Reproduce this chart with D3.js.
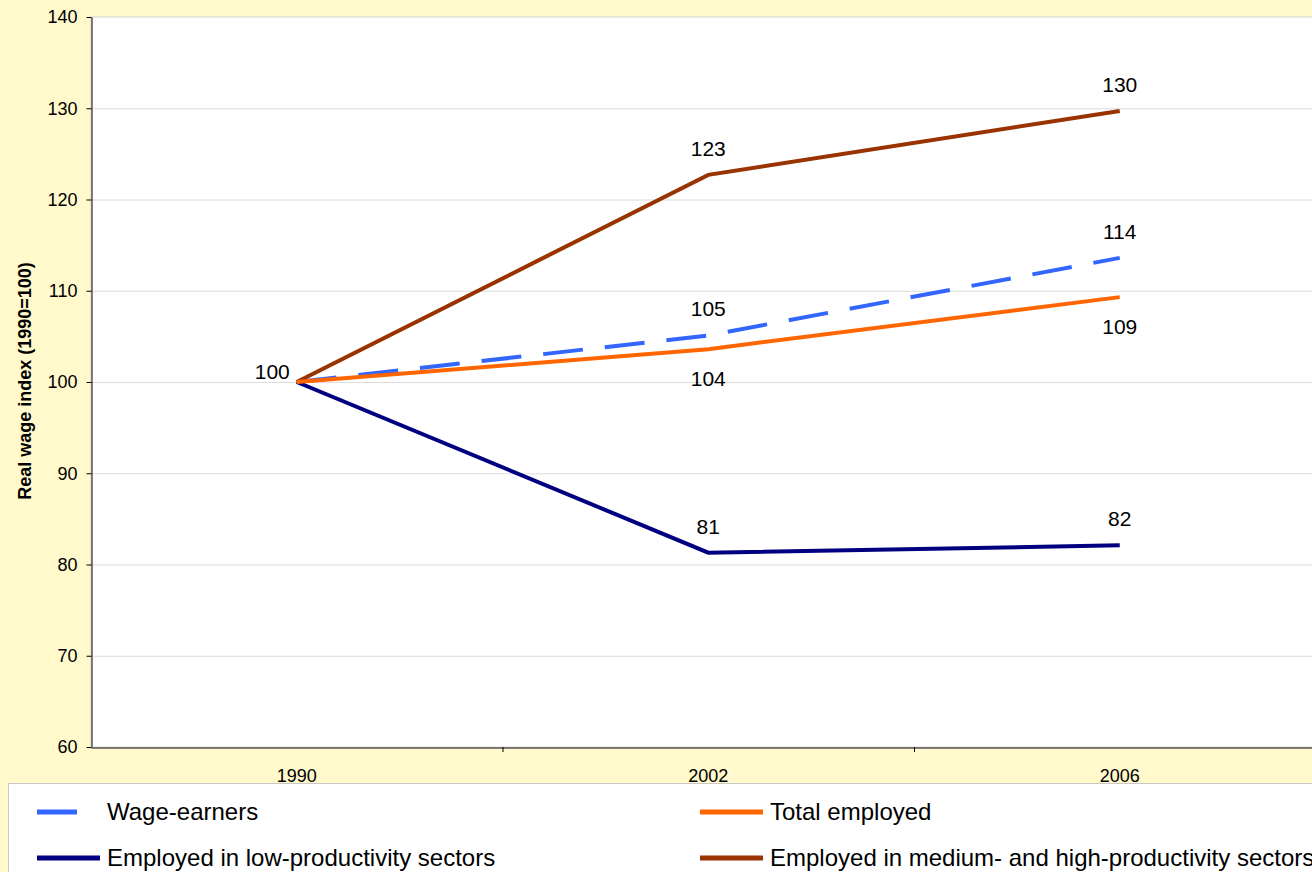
<!DOCTYPE html>
<html>
<head>
<meta charset="utf-8">
<script src="https://cdn.jsdelivr.net/npm/d3@7"></script>
<style>
  body { margin: 0; background: #fff9cc; }
  text { font-family: "Liberation Sans", Arial, sans-serif; }
</style>
</head>
<body>
<div id="chart"></div>
<script>
const years = ["1990", "2002", "2006"];
const yTicks = [60, 70, 80, 90, 100, 110, 120, 130, 140];

const wageEarners = [100, 105.1, 113.6];
const totalEmployed = [100, 103.6, 109.3];
const lowProductivity = [100, 81.3, 82.1];
const mediumHighProductivity = [100, 122.7, 129.7];

const wageLabels = ["", "105", "114"];
const totalLabels = ["", "104", "109"];
const lowLabels = ["100", "81", "82"];
const mediumLabels = ["", "123", "130"];

const width = 1312;
const height = 872;
const plot = { left: 91, top: 17, right: 1312, bottom: 747 };

const svg = d3
  .select("#chart")
  .append("svg")
  .attr("width", width)
  .attr("height", height);

svg.append("rect").attr("width", width).attr("height", height).attr("fill", "#fff9cc");

// plot area
svg
  .append("rect")
  .attr("x", plot.left)
  .attr("y", plot.top)
  .attr("width", plot.right - plot.left + 10)
  .attr("height", plot.bottom - plot.top)
  .attr("fill", "#ffffff")
  .attr("stroke", "#d4d4d4");

const x = d3.scaleBand().domain(years).range([plot.left, plot.left + 3 * 411.5]);
const y = d3.scaleLinear().domain([60, 140]).range([plot.bottom, plot.top]);

// gridlines
svg
  .selectAll("line.grid")
  .data(yTicks.slice(1, -1))
  .enter()
  .append("line")
  .attr("class", "grid")
  .attr("x1", plot.left)
  .attr("x2", plot.right)
  .attr("y1", (d) => y(d) + 0.5)
  .attr("y2", (d) => y(d) + 0.5)
  .attr("stroke", "#dcdcdc")
  .attr("stroke-width", 1);

// y axis
const yAxis = svg
  .append("g")
  .attr("transform", `translate(${plot.left + 0.5},0)`)
  .call(d3.axisLeft(y).tickValues(yTicks).tickSize(5).tickSizeOuter(0));
yAxis.select(".domain").attr("stroke", "#000");
yAxis.selectAll(".tick line").attr("stroke", "#000");
yAxis
  .selectAll(".tick text")
  .attr("font-size", 18)
  .attr("fill", "#000")
  .attr("x", -14)
  .style("font-family", "Liberation Sans, Arial, sans-serif");

// x axis
const xAxis = svg
  .append("g")
  .attr("transform", `translate(0,${plot.bottom + 0.5})`)
  .call(d3.axisBottom(x).tickSize(0).tickSizeOuter(0));
xAxis.select(".domain").attr("stroke", "#555").attr("stroke-width", 1.5);
xAxis
  .selectAll(".tick text")
  .attr("font-size", 18)
  .attr("fill", "#000")
  .attr("y", 22)
  .style("font-family", "Liberation Sans, Arial, sans-serif");

// category separators
svg
  .selectAll("line.sep")
  .data(years.slice(1))
  .enter()
  .append("line")
  .attr("class", "sep")
  .attr("x1", (d) => x(d) + 0.5)
  .attr("x2", (d) => x(d) + 0.5)
  .attr("y1", plot.bottom)
  .attr("y2", plot.bottom + 5)
  .attr("stroke", "#000");

// y axis title
svg
  .append("text")
  .attr("transform", `translate(31,${(plot.top + plot.bottom) / 2 - 1}) rotate(-90)`)
  .attr("text-anchor", "middle")
  .attr("font-size", 18)
  .attr("font-weight", "bold")
  .text("Real wage index (1990=100)");

const series = [
  { name: "Wage-earners", values: wageEarners, labels: wageLabels, color: "#3366ff", dash: "40,22", pos: ["", "above", "above"] },
  { name: "Total employed", values: totalEmployed, labels: totalLabels, color: "#ff6600", dash: null, pos: ["", "below", "below"] },
  { name: "Employed in low-productivity sectors", values: lowProductivity, labels: lowLabels, color: "#000080", dash: null, pos: ["left", "above", "above"] },
  { name: "Employed in medium- and high-productivity sectors", values: mediumHighProductivity, labels: mediumLabels, color: "#993300", dash: null, pos: ["", "above", "above"] },
];

const line = d3
  .line()
  .x((d, i) => x(years[i]) + x.bandwidth() / 2)
  .y((d) => y(d));

// draw lines in stacking order: wage, low, medium, total
[series[0], series[2], series[3], series[1]].forEach((s) => {
  svg
    .append("path")
    .attr("d", line(s.values))
    .attr("fill", "none")
    .attr("stroke", s.color)
    .attr("stroke-width", 4)
    .attr("stroke-dasharray", s.dash);
});

// data labels
series.forEach((s) => {
  s.values.forEach((v, i) => {
    if (!s.labels[i]) return;
    const cx = x(years[i]) + x.bandwidth() / 2;
    const cy = y(v);
    let tx = cx, ty = cy, anchor = "middle";
    if (s.pos[i] === "above") ty = cy - 19;
    if (s.pos[i] === "below") ty = cy + 37;
    if (s.pos[i] === "left") { tx = cx - 7; ty = cy - 3; anchor = "end"; }
    svg
      .append("text")
      .attr("x", tx)
      .attr("y", ty)
      .attr("text-anchor", anchor)
      .attr("font-size", 21)
      .text(s.labels[i]);
  });
});

// legend
svg
  .append("rect")
  .attr("x", 8.5)
  .attr("y", 783.5)
  .attr("width", 1320)
  .attr("height", 100)
  .attr("fill", "#ffffff")
  .attr("stroke", "#c8c8c8");

const legendItems = [
  { s: series[0], x: 37, y: 812, len: 40 },
  { s: series[1], x: 700, y: 812, len: 63 },
  { s: series[2], x: 37, y: 858, len: 63 },
  { s: series[3], x: 700, y: 858, len: 63 },
];

legendItems.forEach((item) => {
  svg
    .append("line")
    .attr("x1", item.x)
    .attr("x2", item.x + item.len)
    .attr("y1", item.y)
    .attr("y2", item.y)
    .attr("stroke", item.s.color)
    .attr("stroke-width", 5);
  svg
    .append("text")
    .attr("x", item.x === 37 ? 107 : 770)
    .attr("y", item.y + 8)
    .attr("font-size", 24)
    .text(item.s.name);
});
</script>
</body>
</html>
